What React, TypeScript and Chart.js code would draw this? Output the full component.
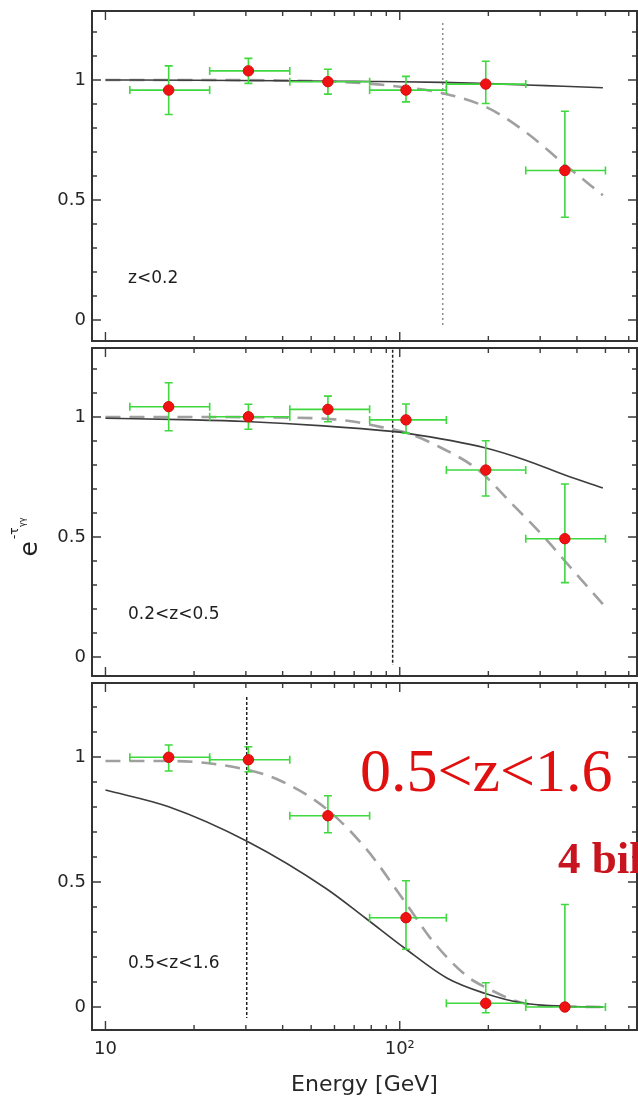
import React, { useEffect, useRef } from "react";
import { Chart, registerables } from "chart.js";
Chart.register(...registerables);

// ---- data ----
const binCenters = [16.4, 30.6, 57, 105, 196, 364];
const binLow = [12.1, 22.6, 42.3, 79, 144, 268];
const binHigh = [22.6, 42.3, 79, 144, 268, 500];

const ratioA = [0.958, 1.038, 0.993, 0.958, 0.983, 0.623];
const ratioALow = [0.856, 0.986, 0.941, 0.909, 0.902, 0.428];
const ratioAHigh = [1.059, 1.09, 1.045, 1.015, 1.078, 0.87];

const ratioB = [1.043, 1.001, 1.032, 0.988, 0.779, 0.493];
const ratioBLow = [0.943, 0.949, 0.98, 0.933, 0.671, 0.31];
const ratioBHigh = [1.143, 1.053, 1.087, 1.054, 0.901, 0.721];

const ratioC = [0.999, 0.989, 0.765, 0.357, 0.015, 0.0];
const ratioCLow = [0.944, 0.941, 0.697, 0.231, -0.023, 0.0];
const ratioCHigh = [1.048, 1.041, 0.845, 0.505, 0.097, 0.41];

const solidEA = [10, 20, 40, 60, 80, 100, 140, 200, 270, 360, 490];
const solidA = [1.0, 0.999, 0.997, 0.995, 0.994, 0.993, 0.99, 0.985, 0.979, 0.974, 0.968];
const dashedEA = [10, 20, 40, 60, 80, 100, 140, 200, 270, 360, 490];
const dashedA = [1.0, 1.0, 0.998, 0.993, 0.984, 0.972, 0.945, 0.883, 0.78, 0.652, 0.52];

const solidEB = [10, 20, 30, 55, 94, 105, 196, 268, 364, 490];
const solidB = [0.995, 0.988, 0.981, 0.963, 0.94, 0.933, 0.871, 0.82, 0.758, 0.704];
const dashedEB = [10, 20, 40, 60, 72, 85, 105, 136, 185, 240, 312, 366, 490];
const dashedB = [1.0, 1.0, 0.998, 0.99, 0.978, 0.96, 0.935, 0.876, 0.779, 0.64, 0.495, 0.397, 0.22];

const solidEC = [10, 16.4, 30.5, 56, 76.6, 104, 145, 194, 264, 364, 490];
const solidC = [0.868, 0.801, 0.661, 0.475, 0.355, 0.235, 0.115, 0.055, 0.015, 0.003, 0.0];
const dashedEC = [10, 16.4, 30.5, 40, 56, 76.6, 104, 130, 170, 194, 264, 364, 490];
const dashedC = [0.984, 0.984, 0.948, 0.901, 0.795, 0.635, 0.421, 0.261, 0.121, 0.081, 0.015, 0.002, 0.0];

const cutoffE = [140, 94.6, 30.2];
const cutoffTop = [1.2375, 1.28, 1.24];
const cutoffBottom = [-0.033, -0.033, -0.044];

const panelLabels = ["z<0.2", "0.2<z<0.5", "0.5<z<1.6"];

const yTickValues = [0, 0.5, 1];
const yTickLabels = ["0", "0.5", "1"];
const xTickValues = [10, 100];
const xTickLabels = ["10", "10\u00B2"];
const xMajor = [10, 100];
const xMinor = [20, 30, 40, 50, 60, 70, 80, 90, 200, 300, 400, 500, 600];
const yMajor = [0, 0.5, 1];
const yMinor = [0.1, 0.2, 0.3, 0.4, 0.6, 0.7, 0.8, 0.9, 1.1, 1.2];

const FONT = "DejaVu Sans";
const INK = "#262626";

type Panel = {
  top: number; height: number; padTop: number; padBottom: number; xAxisH: number;
  yMin: number; yMax: number;
  values: number[]; low: number[]; high: number[];
  solidE: number[]; solidY: number[]; dashedE: number[]; dashedY: number[];
  cutE: number; cutTop: number; cutBottom: number; cutColor: string; cutDash: number[];
  label: string; labelOffset: number; showX: boolean; kind: number;
};

const panels: Panel[] = [
  {
    top: 0, height: 345, padTop: 11, padBottom: 4, xAxisH: 0, yMin: -0.0875, yMax: 1.2875,
    values: ratioA, low: ratioALow, high: ratioAHigh,
    solidE: solidEA, solidY: solidA, dashedE: dashedEA, dashedY: dashedA,
    cutE: cutoffE[0], cutTop: cutoffTop[0], cutBottom: cutoffBottom[0], cutColor: "#8c8c8c", cutDash: [2, 3],
    label: panelLabels[0], labelOffset: 58, showX: false, kind: 0,
  },
  {
    top: 345, height: 335, padTop: 3, padBottom: 4, xAxisH: 0, yMin: -0.079, yMax: 1.2875,
    values: ratioB, low: ratioBLow, high: ratioBHigh,
    solidE: solidEB, solidY: solidB, dashedE: dashedEB, dashedY: dashedB,
    cutE: cutoffE[1], cutTop: cutoffTop[1], cutBottom: cutoffBottom[1], cutColor: "#222", cutDash: [3, 2],
    label: panelLabels[1], labelOffset: 57, showX: false, kind: 1,
  },
  {
    top: 680, height: 422, padTop: 3, padBottom: 0, xAxisH: 72, yMin: -0.092, yMax: 1.296,
    values: ratioC, low: ratioCLow, high: ratioCHigh,
    solidE: solidEC, solidY: solidC, dashedE: dashedEC, dashedY: dashedC,
    cutE: cutoffE[2], cutTop: cutoffTop[2], cutBottom: cutoffBottom[2], cutColor: "#222", cutDash: [3, 2],
    label: panelLabels[2], labelOffset: 62, showX: true, kind: 2,
  },
];

function zeroPadding(s: any) {
  s.paddingTop = 0;
  s.paddingBottom = 0;
  s.paddingLeft = 0;
  s.paddingRight = 0;
}

function makePlugins(p: Panel) {
  const errorBars = {
    id: "errorBars",
    beforeDatasetDraw(chart: any, args: any) {
      if (args.index !== 0) return;
      const { ctx, scales: { x, y } } = chart;
      ctx.save();
      ctx.strokeStyle = "#3fd83f";
      ctx.lineWidth = 1.6;
      const cap = 4;
      p.values.forEach((v, i) => {
        const cx = x.getPixelForValue(binCenters[i]);
        const cy = y.getPixelForValue(v);
        const x0 = x.getPixelForValue(binLow[i]);
        const x1 = x.getPixelForValue(binHigh[i]);
        const y0 = y.getPixelForValue(p.low[i]);
        const y1 = y.getPixelForValue(p.high[i]);
        ctx.beginPath();
        ctx.moveTo(x0, cy); ctx.lineTo(x1, cy);
        ctx.moveTo(x0, cy - cap); ctx.lineTo(x0, cy + cap);
        ctx.moveTo(x1, cy - cap); ctx.lineTo(x1, cy + cap);
        ctx.moveTo(cx, y0); ctx.lineTo(cx, y1);
        ctx.moveTo(cx - cap, y0); ctx.lineTo(cx + cap, y0);
        ctx.moveTo(cx - cap, y1); ctx.lineTo(cx + cap, y1);
        ctx.stroke();
      });
      ctx.restore();
    },
  };

  const frame = {
    id: "frame",
    afterDraw(chart: any) {
      const { ctx, chartArea: { left, right, top, bottom }, scales: { x, y } } = chart;
      ctx.save();
      ctx.strokeStyle = "#3a3a3a";
      ctx.lineWidth = 1.4;
      const tickX = (v: number, len: number) => {
        const px = x.getPixelForValue(v);
        ctx.beginPath();
        ctx.moveTo(px, bottom); ctx.lineTo(px, bottom - len);
        ctx.moveTo(px, top); ctx.lineTo(px, top + len);
        ctx.stroke();
      };
      const tickY = (v: number, len: number) => {
        const py = y.getPixelForValue(v);
        ctx.beginPath();
        ctx.moveTo(left, py); ctx.lineTo(left + len, py);
        ctx.moveTo(right, py); ctx.lineTo(right - len, py);
        ctx.stroke();
      };
      xMajor.forEach((v) => tickX(v, 9));
      xMinor.forEach((v) => tickX(v, 5));
      yMajor.forEach((v) => tickY(v, 9));
      yMinor.forEach((v) => tickY(v, 5));
      ctx.lineWidth = 2;
      ctx.strokeStyle = "#333";
      ctx.strokeRect(left, top, right - left, bottom - top);
      // panel label
      ctx.fillStyle = "#1e1e1e";
      ctx.font = `17px "${FONT}"`;
      ctx.textBaseline = "alphabetic";
      ctx.textAlign = "left";
      ctx.fillText(p.label, left + 36, bottom - p.labelOffset);

      if (p.kind === 1) {
        // y-axis title e^{-tau_{gamma gamma}}
        ctx.save();
        ctx.translate(37, 211.5);
        ctx.rotate(-Math.PI / 2);
        ctx.fillStyle = "#1e1e1e";
        ctx.font = `25px "${FONT}"`;
        ctx.fillText("e", 0, 0);
        ctx.font = `12px "${FONT}"`;
        ctx.fillText("-\u03C4", 17.5, -19);
        ctx.font = `8px "${FONT}"`;
        ctx.fillText("\u03B3\u03B3", 29.5, -12);
        ctx.restore();
      }
      if (p.kind === 2) {
        const off = p.top;
        ctx.textAlign = "left";
        ctx.fillStyle = "#e01010";
        ctx.font = `62px "Liberation Serif"`;
        ctx.fillText("0.5<z<1.6", 360, 791 - off);
        ctx.fillStyle = "#c8141e";
        ctx.font = `bold 45px "Liberation Serif"`;
        ctx.fillText("4 billion", 558, 873 - off);
      }
      ctx.restore();
    },
  };
  return [errorBars, frame];
}

function PanelChart({ p }: { p: Panel }) {
  const ref = useRef<HTMLCanvasElement>(null);
  useEffect(() => {
    const chart = new Chart(ref.current as HTMLCanvasElement, {
      type: "scatter",
      data: {
        datasets: [
          {
            data: binCenters.map((e, i) => ({ x: e, y: p.values[i] })),
            pointRadius: 5.2,
            pointBackgroundColor: "#f01212",
            pointBorderColor: "#d40a0a",
            pointBorderWidth: 1,
            showLine: false,
          },
          {
            data: p.solidE.map((e, i) => ({ x: e, y: p.solidY[i] })),
            showLine: true,
            borderColor: "#3d3d3d",
            borderWidth: 1.6,
            pointRadius: 0,
            cubicInterpolationMode: "monotone",
          },
          {
            data: p.dashedE.map((e, i) => ({ x: e, y: p.dashedY[i] })),
            showLine: true,
            borderColor: "#a0a0a0",
            borderWidth: 2.6,
            borderDash: [15, 9],
            pointRadius: 0,
            cubicInterpolationMode: "monotone",
          },
          {
            data: [
              { x: p.cutE, y: p.cutTop },
              { x: p.cutE, y: p.cutBottom },
            ],
            showLine: true,
            borderColor: p.cutColor,
            borderWidth: 1.5,
            borderDash: p.cutDash,
            pointRadius: 0,
          },
        ] as any,
      },
      options: {
        animation: false,
        responsive: false,
        events: [],
        layout: { autoPadding: false, padding: { top: p.padTop, bottom: p.padBottom, left: 0, right: 1 } },
        plugins: { legend: { display: false }, tooltip: { enabled: false } },
        scales: {
          x: {
            type: "logarithmic",
            min: 9,
            max: 640,
            afterBuildTicks: (s: any) => {
              s.ticks = p.showX ? xTickValues.map((v) => ({ value: v })) : [];
            },
            afterFit: (s: any) => {
              s.height = p.xAxisH;
              zeroPadding(s);
            },
            ticks: {
              display: p.showX,
              autoSkip: false,
              maxRotation: 0,
              padding: 9,
              color: INK,
              font: { family: FONT, size: 18 },
              callback: (_v: any, i: number) => xTickLabels[i],
            },
            grid: { display: false, drawTicks: false },
            border: { display: false },
            title: {
              display: p.showX,
              text: "Energy [GeV]",
              color: INK,
              font: { family: FONT, size: 22 },
              padding: { top: 0, bottom: 4 },
            },
          },
          y: {
            type: "linear",
            min: p.yMin,
            max: p.yMax,
            afterBuildTicks: (s: any) => {
              s.ticks = yTickValues.map((v) => ({ value: v }));
            },
            afterFit: (s: any) => {
              s.width = 92;
              zeroPadding(s);
            },
            ticks: {
              padding: 6,
              color: INK,
              font: { family: FONT, size: 18 },
              callback: (_v: any, i: number) => yTickLabels[i],
            },
            grid: { display: false, drawTicks: false },
            border: { display: false },
          },
        },
      } as any,
      plugins: makePlugins(p) as any,
    });
    return () => chart.destroy();
  }, [p]);
  return (
    <canvas
      ref={ref}
      width={638}
      height={p.height}
      style={{ position: "absolute", left: 0, top: p.top, width: 638, height: p.height }}
    />
  );
}

export default function App() {
  return (
    <div
      style={{
        position: "absolute",
        left: 0,
        top: 0,
        width: 638,
        height: 1102,
        background: "#ffffff",
        overflow: "hidden",
      }}
    >
      {panels.map((p, i) => (
        <PanelChart key={i} p={p} />
      ))}
    </div>
  );
}
